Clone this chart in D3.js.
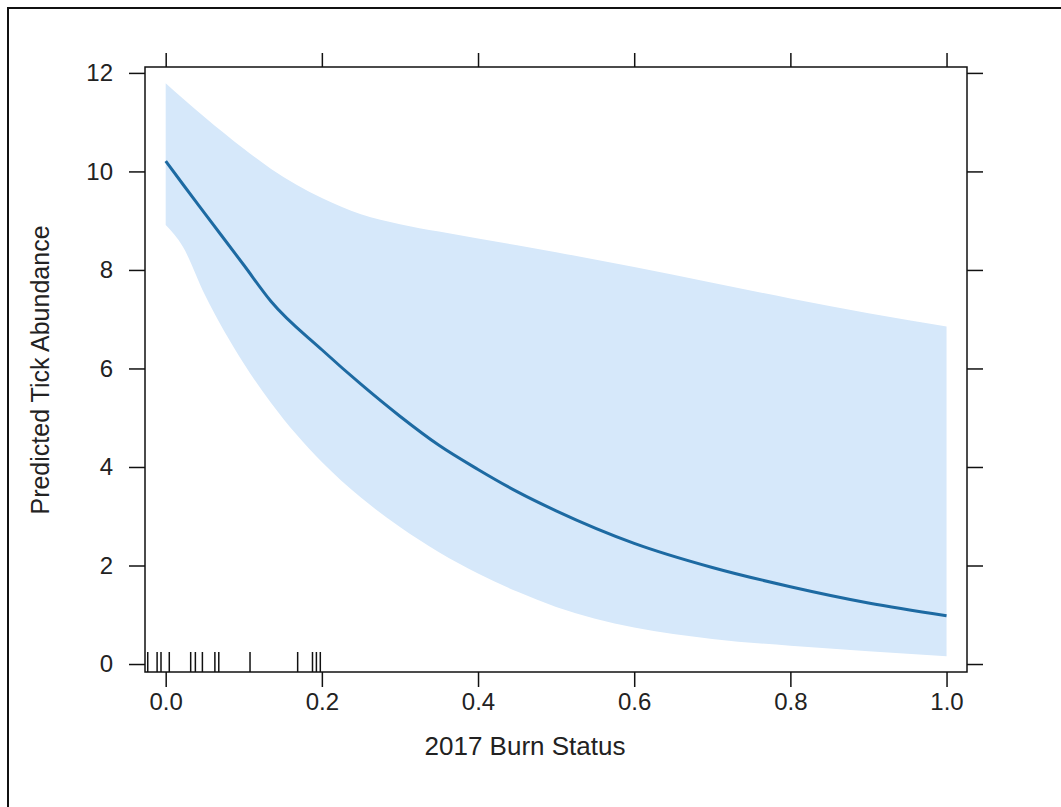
<!DOCTYPE html>
<html>
<head>
<meta charset="utf-8">
<script src="https://cdn.jsdelivr.net/npm/d3@7"></script>
<style>
  body { margin: 0; background: #fff; }
  text { font-family: "Liberation Sans", Arial, sans-serif; fill: #222; }
</style>
</head>
<body>
<div id="chart"></div>
<script>
// burn status values where the effect was evaluated
const burnX = [0, 0.022, 0.05, 0.1, 0.135, 0.2, 0.25, 0.3, 0.35, 0.4, 0.45, 0.5, 0.6, 0.7, 0.8, 0.9, 1.0]
const fitValues = [10.21, 9.74, 9.15, 8.10, 7.36, 6.38, 5.68, 5.03, 4.44, 3.95, 3.50, 3.11, 2.45, 1.96, 1.57, 1.24, 0.98]
const upperValues = [11.79, 11.48, 11.10, 10.46, 10.05, 9.46, 9.13, 8.93, 8.78, 8.64, 8.50, 8.36, 8.06, 7.74, 7.42, 7.12, 6.85]
const lowerValues = [8.91, 8.47, 7.50, 6.10, 5.30, 4.10, 3.38, 2.78, 2.27, 1.84, 1.47, 1.16, 0.74, 0.51, 0.37, 0.26, 0.16]
// observed (jittered) burn status, drawn as rug
const rugValues = [-0.023, -0.011, -0.006, 0.0046, 0.032, 0.038, 0.047, 0.063, 0.068, 0.108, 0.169, 0.188, 0.193, 0.198]
const xTicks = [0, 0.2, 0.4, 0.6, 0.8, 1.0]
const yTicks = [0, 2, 4, 6, 8, 10, 12]

const width = 1061
const height = 807
const panel = { left: 145, right: 967, top: 67, bottom: 672 }

const svg = d3.select("#chart")
    .append("svg")
    .attr("width", width)
    .attr("height", height)

// outer frame of the image
svg.append("path")
    .attr("d", `M8,${height} V8 H${width}`)
    .attr("fill", "none")
    .attr("stroke", "#111")
    .attr("stroke-width", 2)

const x = d3.scaleLinear().domain([-0.0265, 1.0262]).range([panel.left, panel.right])
const y = d3.scaleLinear().domain([-0.162, 12.12]).range([panel.bottom, panel.top])

const rows = burnX.map((b, i) => ({ b: b, fit: fitValues[i], lo: lowerValues[i], hi: upperValues[i] }))

svg.append("path")
    .datum(rows)
    .attr("fill", "#d6e8fa")
    .attr("d", d3.area().curve(d3.curveMonotoneX).x(d => x(d.b)).y0(d => y(d.lo)).y1(d => y(d.hi)))

svg.append("path")
    .datum(rows)
    .attr("fill", "none")
    .attr("stroke", "#1d6aa2")
    .attr("stroke-width", 3)
    .attr("d", d3.line().curve(d3.curveMonotoneX).x(d => x(d.b)).y(d => y(d.fit)))

// rug
svg.append("g")
    .selectAll("line")
    .data(rugValues)
    .join("line")
    .attr("x1", d => x(d)).attr("x2", d => x(d))
    .attr("y1", panel.bottom).attr("y2", panel.bottom - 20)
    .attr("stroke", "#111")
    .attr("stroke-width", 1.5)

// axes
const fmtX = d3.format(".1f")
const axBottom = svg.append("g")
    .attr("transform", `translate(0,${panel.bottom})`)
    .call(d3.axisBottom(x).tickValues(xTicks).tickFormat(fmtX).tickSize(15).tickPadding(6))
const axTop = svg.append("g")
    .attr("transform", `translate(0,${panel.top})`)
    .call(d3.axisTop(x).tickValues(xTicks).tickFormat("").tickSize(14))
const axLeft = svg.append("g")
    .attr("transform", `translate(${panel.left},0)`)
    .call(d3.axisLeft(y).tickValues(yTicks).tickSize(16).tickPadding(16))
const axRight = svg.append("g")
    .attr("transform", `translate(${panel.right},0)`)
    .call(d3.axisRight(y).tickValues(yTicks).tickFormat("").tickSize(16))

for (const g of [axBottom, axTop, axLeft, axRight]) {
    g.select(".domain").remove()
    g.selectAll(".tick line").attr("stroke", "#111").attr("stroke-width", 1.5)
    g.selectAll("text").style("font-size", "24px").attr("fill", "#222")
}

svg.append("rect")
    .attr("x", panel.left).attr("y", panel.top)
    .attr("width", panel.right - panel.left).attr("height", panel.bottom - panel.top)
    .attr("fill", "none")
    .attr("stroke", "#111")
    .attr("stroke-width", 1.5)

svg.append("text")
    .attr("x", 525).attr("y", 755)
    .attr("text-anchor", "middle")
    .style("font-size", "26px")
    .text("2017 Burn Status")

svg.append("text")
    .attr("transform", "translate(49,370) rotate(-90)")
    .attr("text-anchor", "middle")
    .style("font-size", "25px")
    .text("Predicted Tick Abundance")
</script>
</body>
</html>
